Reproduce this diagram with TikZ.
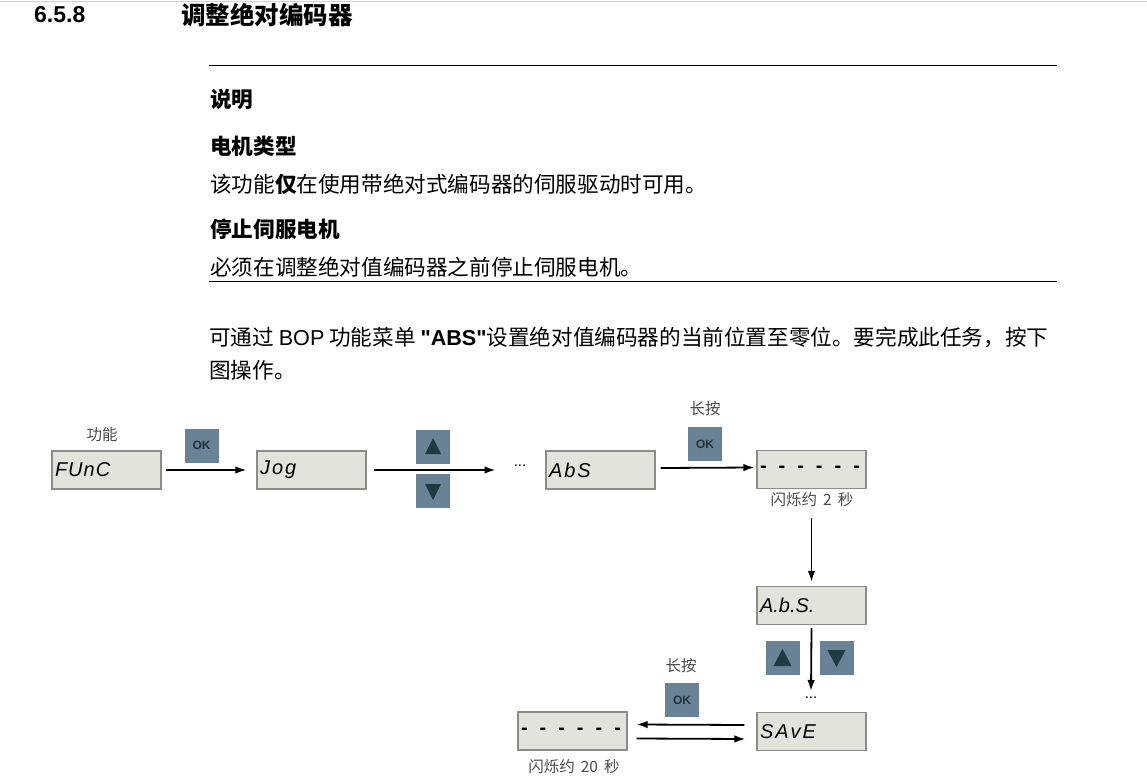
\documentclass[tikz,border=0pt]{standalone}
\usepackage{fontspec}
\setmainfont{Liberation Sans}
\newfontfamily\lat{Liberation Sans}
\newfontfamily\cjk{Noto Sans CJK SC}
\usetikzlibrary{arrows.meta,calc}
\definecolor{dispfill}{HTML}{E3E3DD}
\definecolor{displine}{HTML}{8C8C8C}
\definecolor{btnfill}{HTML}{6A8296}
\definecolor{btntext}{HTML}{22323C}
\definecolor{trifill}{HTML}{1E3A42}
\definecolor{lblgray}{HTML}{4A4A4A}
\newcommand\dashrow{\raisebox{-2.5pt}{\bfseries\upshape -\hspace{12pt}-\hspace{12pt}-\hspace{12pt}-\hspace{12pt}-\hspace{12pt}-}}
\begin{document}
\begin{tikzpicture}[x=1pt,y=-1pt,
  txt/.style={anchor=west,inner sep=0pt,font=\cjk\fontsize{21.6}{21.6}\selectfont},
  head/.style={txt,font=\cjk\bfseries\fontsize{21.6}{21.6}\selectfont},
  disp/.style={draw=displine,fill=dispfill,line width=1.2pt,minimum width=109pt,minimum height=38pt,inner sep=0pt,inner xsep=3pt,text width=103pt,align=left,font=\fontsize{20}{20}\selectfont\itshape},
  btnbox/.style={fill=btnfill,minimum size=34pt,inner sep=0pt},
  okbtn/.style={btnbox,text=btntext,font=\fontsize{12}{12}\selectfont\bfseries},
  arr/.style={-{Latex[length=11pt,width=7.5pt]},line width=1.8pt},
  lbl/.style={inner sep=0pt,text=lblgray,font=\cjk\fontsize{15.5}{15.5}\selectfont},
  dots/.style={inner sep=0pt,font=\fontsize{15}{15}\selectfont}]
\useasboundingbox (0,0) rectangle (1147,783);
\fill[white] (0,0) rectangle (1147,783);
\draw[gray!35,line width=0.8pt] (0,1) -- (1147,1);

% title
\node[anchor=west,inner sep=0pt,font=\bfseries\fontsize{23}{23}\selectfont] (num) at (34,15) {6.5.8};
\node[anchor=west,inner sep=0pt,font=\cjk\bfseries\fontsize{24.5}{24.5}\selectfont] (title) at (181,15) {调整绝对编码器};

% note block
\coordinate (r1a) at (209,66); \coordinate (r1b) at (1057,66);
\coordinate (r2a) at (209,282); \coordinate (r2b) at (1057,282);
\draw[line width=1pt] (r1a) -- (r1b);
\draw[line width=1pt] (r2a) -- (r2b);
\node[head] (n1) at (210,99) {说明};
\node[head] (n2) at (210,146) {电机类型};
\node[txt] (n3) at (210,184) {该功能{\bfseries 仅}在使用带绝对式编码器的伺服驱动时可用。};
\node[head] (n4) at (210,229) {停止伺服电机};
\node[txt] (n5) at (210,267) {必须在调整绝对值编码器之前停止伺服电机。};

\node[txt] (p1) at (209,337) {可通过 {\lat BOP} 功能菜单 {\lat\bfseries "ABS"}设置绝对值编码器的当前位置至零位。要完成此任务，按下};
\node[txt] (p2) at (209,370) {图操作。};

% row 1
\node[disp] (func) at (106.5,470) {F\hspace{1pt}U\hspace{1pt}n\hspace{1pt}C};
\node[lbl] (lfunc) at (102,435) {功能};
\node[okbtn] (ok1) at (201.5,445.5) {OK};
\node[disp] (jog) at (311.5,470) {J\hspace{2pt}o\hspace{2pt}g};
\draw[arr] (func.east) ++(4,0) -- ($(jog.west)+(-10,0)$);
\node[btnbox] (up1) at (433,447) {};
\node[btnbox] (dn1) at (433,491) {};
\fill[trifill] ($(up1)+(0,-9)$) -- ($(up1)+(8,7)$) -- ($(up1)+(-8,7)$) -- cycle;
\fill[trifill] ($(dn1)+(0,9)$) -- ($(dn1)+(8,-7)$) -- ($(dn1)+(-8,-7)$) -- cycle;
\node[dots] (d1) at (520,466) {...};
\draw[arr] ($(jog.east)+(7,0)$) -- ($(d1.west)+(-18,4)$);
\node[disp] (abs) at (600.5,470) {A\hspace{2pt}b\hspace{2pt}S};
\node[okbtn] (ok2) at (705,444) {OK};
\node[lbl] (lok2) at (705,409) {长按};
\node[disp] (fl1) at (811.5,469.5) {\dashrow};
\draw[arr] ($(abs.east)+(5,-2)$) -- ($(fl1.west)+(-2,-2)$);
\node[lbl] (lfl1) at (812,500) {闪烁约 \,2\, 秒};

% column
\node[disp] (abs2) at (811.5,605.5) {A.b.S.};
\draw[arr] ($(fl1.south)+(0,29)$) -- ($(abs2.north)+(0,-4)$);
\node[btnbox] (up2) at (782.5,658) {};
\node[btnbox] (dn2) at (836.5,658) {};
\fill[trifill] ($(up2)+(0,-9)$) -- ($(up2)+(9,8)$) -- ($(up2)+(-9,8)$) -- cycle;
\fill[trifill] ($(dn2)+(0,9)$) -- ($(dn2)+(9,-8)$) -- ($(dn2)+(-9,-8)$) -- cycle;
\node[dots] (d2) at (811,698) {...};
\draw[arr] ($(abs2.south)+(0,3)$) -- ($(d2.north)+(0,-6)$);
\node[disp] (save) at (811.5,731.5) {S\hspace{2pt}A\hspace{2pt}v\hspace{2pt}E};

% bottom
\node[disp] (fl2) at (572.5,731) {\dashrow};
\node[okbtn] (ok3) at (682,700) {OK};
\node[lbl] (lok3) at (681,666) {长按};
\draw[arr] ($(save.west)+(-12,-6.5)$) -- ($(fl2.east)+(9,-6.5)$);
\draw[arr] ($(fl2.east)+(9,7.5)$) -- ($(save.west)+(-11,7.5)$);
\node[lbl] (lfl2) at (574,767) {闪烁约 \,20\, 秒};
\end{tikzpicture}
\end{document}
